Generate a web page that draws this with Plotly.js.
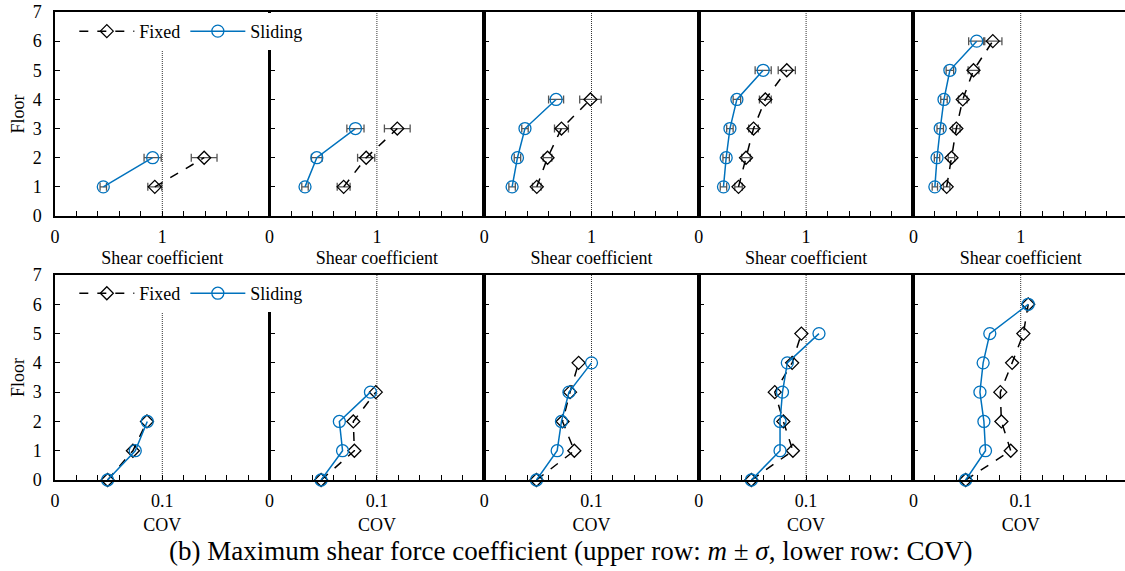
<!DOCTYPE html>
<html>
<head>
<meta charset="utf-8">
<script src="https://cdn.plot.ly/plotly-3.0.1.min.js"></script>
<style>
html,body{margin:0;padding:0;overflow:hidden;background:#fff;}
#chart{width:1128px;height:571px;}
</style>
</head>
<body>
<div id="chart"></div>
<script>
// ---- data ----
const floorsTop = [[1,2],[1,2,3],[1,2,3,4],[1,2,3,4,5],[1,2,3,4,5,6]];
const fixedMean = [[0.93,1.39],[0.69,0.90,1.19],[0.49,0.59,0.72,0.99],[0.37,0.44,0.51,0.62,0.82],[0.31,0.355,0.40,0.46,0.56,0.74]];
const fixedStd = [[0.065,0.12],[0.06,0.08,0.12],[0.04,0.04,0.065,0.10],[0.035,0.04,0.045,0.055,0.08],[0.03,0.03,0.035,0.04,0.05,0.085]];
const slidingMean = [[0.45,0.91],[0.33,0.44,0.80],[0.26,0.31,0.38,0.67],[0.23,0.255,0.29,0.355,0.60],[0.20,0.22,0.25,0.285,0.34,0.59]];
const slidingStd = [[0.03,0.08],[0.03,0.05,0.08],[0.03,0.03,0.03,0.07],[0.03,0.03,0.03,0.035,0.075],[0.025,0.025,0.03,0.03,0.035,0.075]];

const floorsBottom = [[0,1,2],[0,1,2,3],[0,1,2,3,4],[0,1,2,3,4,5],[0,1,2,3,4,5,6]];
const fixedCov = [[0.049,0.0726,0.0857],[0.048,0.079,0.078,0.099],[0.0487,0.084,0.073,0.080,0.088],[0.049,0.0877,0.0788,0.0708,0.087,0.0956],[0.0487,0.0907,0.082,0.081,0.092,0.1025,0.107]];
const slidingCov = [[0.049,0.0748,0.086],[0.048,0.068,0.065,0.094],[0.0487,0.068,0.072,0.079,0.100],[0.049,0.0757,0.0757,0.078,0.0825,0.112],[0.0487,0.0672,0.0657,0.062,0.065,0.0712,0.107]];

const topTickVals = [0,0.2,0.4,0.6,0.8,1,1.2,1.4,1.6,1.8];
const topTickText = ['0','','','','','1','','','',''];
const botTickVals = [0,0.02,0.04,0.06,0.08,0.1,0.12,0.14,0.16,0.18];
const botTickText = ['0','','','','','0.1','','','',''];
const floorTicks = [0,1,2,3,4,5,6,7];

const seriesNames = ['Fixed','Sliding'];
const topXTitle = 'Shear coefficient';
const botXTitle = 'COV';
const yTitle = 'Floor';
const chartTitle = '(b) Maximum shear force coefficient (upper row: <i>m</i> ± <i>σ</i>, lower row: COV)';

// ---- styles ----
const FONT = "'Liberation Serif', 'Times New Roman', serif";
const FS = 18;
const BLUE = '#0072BD';
const ERR = '#555555';
const nPanels = 5;
const pw = 1/nPanels;
const topDomain = [0.5641, 1.0];
const botDomain = [0.0, 0.438];

const traces = [];
const shapes = [];
const layout = {
  width: 1128, height: 571,
  margin: {l:55, r:0, t:12, b:91},
  paper_bgcolor: '#fff', plot_bgcolor: '#fff',
  font: {family: FONT, size: FS, color: '#000'},
  showlegend: true,
  title: {text: chartTitle, font:{family:FONT, size:27, color:'#000'},
          xref:'container', yref:'container', x:0.506, y:0.035, xanchor:'center', yanchor:'middle'},
  legend: {x:0.018, y:0.998, xanchor:'left', yanchor:'top', orientation:'h', bgcolor:'rgba(255,255,255,1)',
           font:{family:FONT,size:FS}, itemwidth:55, tracegroupgap:0},
  legend2: {x:0.018, y:0.438, xanchor:'left', yanchor:'top', orientation:'h', bgcolor:'rgba(255,255,255,1)',
           font:{family:FONT,size:FS}, itemwidth:55, tracegroupgap:0}
};

function axId(i){ return i===1 ? '' : String(i); }

for (let row=0; row<2; row++){
  for (let p=0; p<nPanels; p++){
    const idx = row*nPanels + p + 1;
    const xa = 'x'+axId(idx), ya = 'y'+axId(idx);
    const isTop = row===0;
    const floors = isTop ? floorsTop[p] : floorsBottom[p];
    const fx = isTop ? fixedMean[p] : fixedCov[p];
    const sx = isTop ? slidingMean[p] : slidingCov[p];
    const lg = isTop ? 'legend' : 'legend2';
    const fixedTrace = {
      type:'scatter', mode:'lines+markers', name:seriesNames[0], x:fx, y:floors, xaxis:xa, yaxis:ya,
      line:{color:'#000', width:1.5, dash:'dash'},
      marker:{symbol:'diamond-open', size:10, color:'#000', line:{width:1.3, color:'#000'}},
      legend:lg, showlegend:p===0, cliponaxis:false
    };
    const slidingTrace = {
      type:'scatter', mode:'lines+markers', name:seriesNames[1], x:sx, y:floors, xaxis:xa, yaxis:ya,
      line:{color:BLUE, width:1.5},
      marker:{symbol:'circle-open', size:12, color:BLUE, line:{width:1.3, color:BLUE}},
      legend:lg, showlegend:p===0, cliponaxis:false
    };
    if (isTop){
      fixedTrace.error_x = {type:'data', array:fixedStd[p], visible:true, color:ERR, thickness:1.3, width:4};
      slidingTrace.error_x = {type:'data', array:slidingStd[p], visible:true, color:ERR, thickness:1.3, width:4};
    }
    traces.push(fixedTrace, slidingTrace);

    const d0 = p*pw, d1 = (p+1)*pw;
    layout['xaxis'+axId(idx)] = {
      domain:[d0, d1], range: isTop ? [0,2] : [0,0.2], anchor: ya,
      tickmode:'array', tickvals: isTop ? topTickVals : botTickVals, ticktext: isTop ? topTickText : botTickText,
      ticks:'inside', ticklen:5, tickwidth:1, tickcolor:'#000',
      showline:true, linecolor:'#000', linewidth:1.6, mirror:true,
      showgrid:false, zeroline:false, fixedrange:true,
      ticklabelstandoff:4,
      tickfont:{family:FONT,size:FS,color:'#000'},
      title:{text: isTop ? topXTitle : botXTitle, font:{family:FONT,size:FS,color:'#000'}, standoff: isTop ? 5 : 8}
    };
    layout['yaxis'+axId(idx)] = {
      domain: isTop ? topDomain : botDomain, range:[0,7], anchor: xa,
      tickmode:'array', tickvals: floorTicks,
      ticks:'inside', ticklen:5, tickwidth:1, tickcolor:'#000',
      showticklabels: p===0,
      showline:true, linecolor:'#000', linewidth: p===0 ? 1.6 : 2, mirror:true,
      showgrid:false, zeroline:false, fixedrange:true,
      ticklabelstandoff:8,
      tickfont:{family:FONT,size:FS,color:'#000'},
      title: p===0 ? {text:yTitle, font:{family:FONT,size:FS,color:'#000'}, standoff:3} : {text:''}
    };
    shapes.push({type:'line', xref:xa, yref:ya+' domain', x0: isTop?1:0.1, x1: isTop?1:0.1, y0:0, y1:1,
                 line:{color:'#333', width:1, dash:'1px,1px'}, layer:'below'});
  }
}
layout.shapes = shapes;

Plotly.newPlot('chart', traces, layout, {staticPlot:true, displayModeBar:false});
</script>
</body>
</html>
